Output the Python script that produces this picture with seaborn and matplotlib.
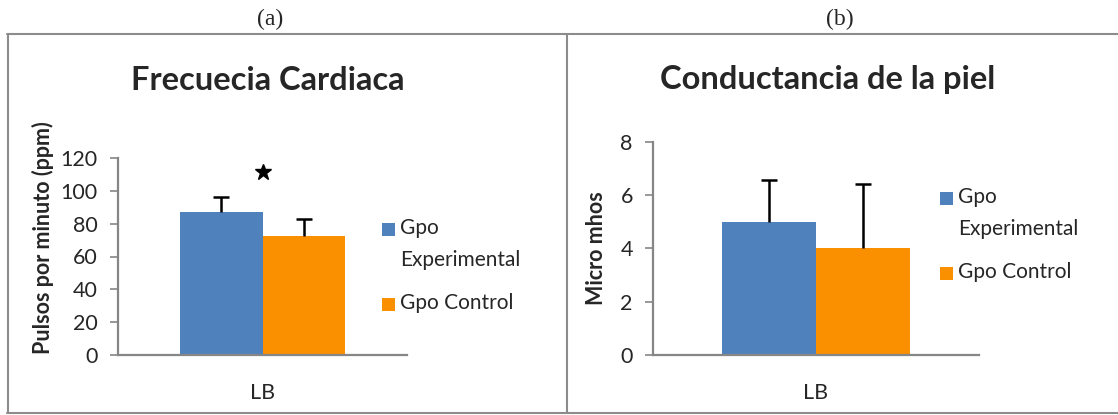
import matplotlib
matplotlib.use("Agg")
import matplotlib.pyplot as plt
import seaborn as sns
import pandas as pd
from matplotlib.lines import Line2D
from matplotlib.patches import Rectangle

# data
categories = ["LB"]
groups = ["Gpo Experimental", "Gpo Control"]
group_labels = ["Gpo\nExperimental", "Gpo Control"]
colors = ["#4F81BD", "#FA9000"]

fc_means = [87.2, 72.6]
fc_errors = [9.0, 10.0]
fc_star = 111.5

sc_means = [5.0, 4.0]
sc_errors = [1.58, 2.42]

sns.set_theme(style="white")
plt.rcParams["font.family"] = ["Lato", "DejaVu Sans"]

W, H = 1118, 415
fig = plt.figure(figsize=(W / 100, H / 100), dpi=100)
AXIS_GRAY = "#868686"


def px_axes(x0, x1, ytop, ybot):
    return fig.add_axes([x0 / W, 1 - ybot / H, (x1 - x0) / W, (ybot - ytop) / H])


def draw_panel(ax, means, errors, ylim, yticks, title, ylabel, title_x, leg_x, leg_y,
               labelpad, label_y):
    df = pd.DataFrame({"cat": categories * len(groups), "grupo": groups, "valor": means})
    sns.barplot(data=df, x="cat", y="valor", hue="grupo", palette=colors,
                width=0.574, saturation=1, legend=False, linewidth=0, ax=ax)
    # upper-only error bars (no cap at the bar top) at the bar centres
    for bar, err in zip(ax.patches, errors):
        cx = bar.get_x() + bar.get_width() / 2
        top = bar.get_height() + err
        ax.vlines(cx, bar.get_height(), top, color="black", linewidth=1.8)
        ax.plot(cx, top, marker="_", color="black", markersize=12,
                markeredgewidth=1.8, clip_on=False)
    ax.set_xlim(-0.5, 0.5)
    ax.set_ylim(*ylim)
    ax.set_yticks(yticks)
    ax.set_xlabel("")
    ax.set_ylabel(ylabel, fontsize=15.5, fontweight="bold", labelpad=labelpad)
    ax.yaxis.label.set_y(label_y)
    ax.tick_params(axis="y", left=True, length=6, width=1.2, color=AXIS_GRAY,
                   labelsize=15.5, pad=8.5)
    ax.tick_params(axis="x", bottom=False, labelsize=15.5, pad=14)
    for s in ["top", "right"]:
        ax.spines[s].set_visible(False)
    for s in ["left", "bottom"]:
        ax.spines[s].set_color(AXIS_GRAY)
        ax.spines[s].set_linewidth(1.6)
    fig.text(title_x / W, 1 - 80 / H, title, fontsize=23.5, fontweight="bold",
             ha="center", va="center")
    # legend, drawn like the Excel one
    ys = [leg_y, leg_y + 75]
    for lab, col, y in zip(group_labels, colors, ys):
        fig.add_artist(Rectangle((leg_x / W, 1 - (y + 7) / H), 13 / W, 13 / H,
                                 facecolor=col, edgecolor="none",
                                 transform=fig.transFigure))
        fig.text((leg_x + 18) / W, 1 - (y - 11) / H, lab, fontsize=15,
                 ha="left", va="top", linespacing=1.75)


ax1 = px_axes(118, 407, 158, 355)
draw_panel(ax1, fc_means, fc_errors, (0, 120), range(0, 121, 20),
           "Frecuecia Cardiaca", "Pulsos por minuto (ppm)", 268, 382, 229,
           labelpad=4.5, label_y=0.596)
ax1.plot(0, fc_star, marker="*", color="black", markersize=12, clip_on=False)

ax2 = px_axes(653, 979, 142, 355)
draw_panel(ax2, sc_means, sc_errors, (0, 8), range(0, 9, 2),
           "Conductancia de la piel", "Micro mhos", 828, 940, 198,
           labelpad=9.5, label_y=0.5)

# panel letters
fig.text(270 / W, 1 - 19 / H, "(a)", fontsize=17, family="Liberation Serif",
         ha="center", va="center")
fig.text(840 / W, 1 - 19 / H, "(b)", fontsize=17, family="Liberation Serif",
         ha="center", va="center")

# chart frames
frame = dict(color="#8C8C8C", linewidth=1.5, transform=fig.transFigure)
fig.add_artist(Line2D([7 / W, 1], [1 - 34.5 / H] * 2, **frame))
fig.add_artist(Line2D([7 / W, 1], [1 - 413 / H] * 2, **frame))
fig.add_artist(Line2D([7.5 / W] * 2, [1 - 34.5 / H, 1 - 413 / H], **frame))
fig.add_artist(Line2D([567 / W] * 2, [1 - 34.5 / H, 1 - 413 / H], **frame))

fig.savefig("out.png", dpi=100)
